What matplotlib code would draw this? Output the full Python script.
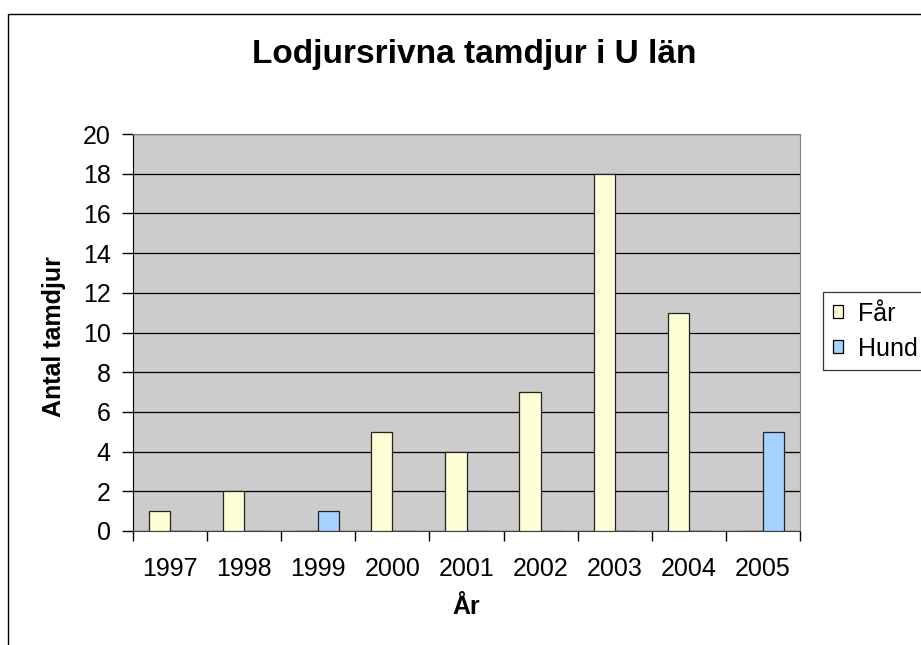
import numpy as np
import matplotlib
matplotlib.use("Agg")
import matplotlib.pyplot as plt
from matplotlib.patches import Rectangle, Patch

plt.rcParams["font.family"] = ["Liberation Sans", "DejaVu Sans"]

# -- data --------------------------------------------------------
years = ["1997", "1998", "1999", "2000", "2001", "2002", "2003", "2004", "2005"]
far = [1, 2, 0, 5, 4, 7, 18, 11, 0]
hund = [0, 0, 1, 0, 0, 0, 0, 0, 5]
yticks = [0, 2, 4, 6, 8, 10, 12, 14, 16, 18, 20]

W, H = 921, 645
fig = plt.figure(figsize=(W / 100, H / 100), dpi=100)
fig.patch.set_facecolor("white")

# outer chart border (cut off at the right/bottom like the reference)
fig.patches.append(Rectangle((8 / W, -0.1), 1.2, 1.1 - 14 / H,
                             transform=fig.transFigure, fill=False,
                             edgecolor="black", lw=1.0))

# plot area in pixels
left, right, top, bottom = 133, 800, 134, 531
ax = fig.add_axes([left / W, 1 - bottom / H, (right - left) / W, (bottom - top) / H])
ax.set_facecolor("#cccccc")

x = np.arange(len(years))
w = 1 / 3.5
ax.bar(x, far, width=-w, align="edge", color="#ffffd6", edgecolor="#222222", lw=0.9,
       zorder=3, label="Får")
ax.bar(x, hund, width=w, align="edge", color="#a6d2ff", edgecolor="#222222", lw=0.9,
       zorder=3, label="Hund")

ax.set_xlim(-0.5, len(years) - 0.5)
ax.set_ylim(0, 20)
ax.set_yticks(yticks)
ax.yaxis.grid(True, color="black", lw=0.9, zorder=1)
ax.set_axisbelow(True)

ax.set_xticks(x)
ax.set_xticklabels(years, fontsize=18)
ax.set_xticks(np.arange(-0.5, len(years)), minor=True)
ax.tick_params(axis="x", which="major", length=0, pad=19)
ax.tick_params(axis="x", which="minor", length=7, width=1, color="black", direction="out")
ax.tick_params(axis="y", labelsize=18, length=8, width=1, direction="out", pad=8)

for s in ["top", "right"]:
    ax.spines[s].set_color("#808080")
ax.spines["left"].set_color("black")
ax.spines["bottom"].set_color("#404040")

ax.set_ylabel("Antal tamdjur", fontsize=18, fontweight="bold")
ax.yaxis.set_label_coords(-0.1, 0.49)
ax.set_xlabel("År", fontsize=18, fontweight="bold")
ax.xaxis.set_label_coords(0.5, -0.162)

fig.text(474 / W, 1 - 63 / H, "Lodjursrivna tamdjur i U län", fontsize=24,
         fontweight="bold", ha="center", va="baseline")

handles = [Patch(facecolor="#ffffd6", edgecolor="black", lw=0.9),
           Patch(facecolor="#a6d2ff", edgecolor="black", lw=0.9)]
leg = fig.legend(handles, ["Får", "Hund"], loc="upper left",
                 bbox_to_anchor=(823 / W, 1 - 292 / H), fontsize=18,
                 frameon=True, fancybox=False, handlelength=0.42, handleheight=0.42,
                 handletextpad=0.6, borderpad=0.38, labelspacing=0.45,
                 borderaxespad=0)
leg.get_frame().set_edgecolor("black")
leg.get_frame().set_linewidth(0.9)

plt.savefig("out.png", dpi=100, facecolor="white")
plt.close()
